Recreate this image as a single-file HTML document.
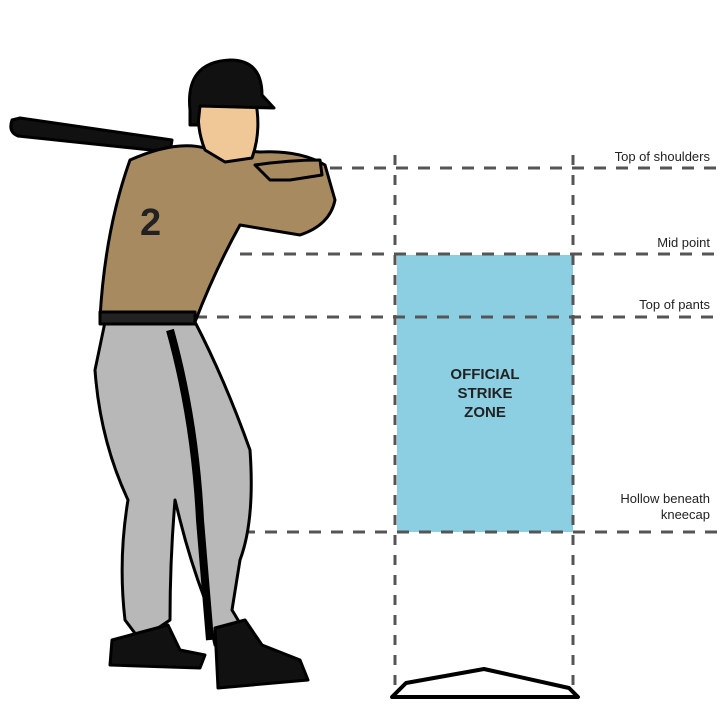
<!DOCTYPE html>
<html><head><meta charset="utf-8"><style>
html,body{margin:0;padding:0;background:#fff;}
body{width:720px;height:714px;position:relative;overflow:hidden;font-family:"Liberation Sans",Arial,sans-serif;}
.l{position:absolute;font-size:13px;color:#222;text-align:right;right:10px;line-height:16px;}
</style></head><body>
<svg width="720" height="714" style="position:absolute;left:0;top:0">
<rect x="397" y="255" width="176" height="277" fill="#8ccfe2"/>
<g stroke="#555" stroke-width="3" stroke-dasharray="12 10" fill="none">
<line x1="330" y1="168" x2="720" y2="168"/>
<line x1="240" y1="254" x2="720" y2="254"/>
<line x1="195" y1="317" x2="720" y2="317"/>
<line x1="243" y1="532" x2="720" y2="532"/>
</g>
<g stroke="#555" stroke-width="3" stroke-dasharray="10 10" fill="none">
<line x1="395" y1="155" x2="395" y2="690"/>
<line x1="573" y1="155" x2="573" y2="690"/>
</g>
<polygon points="392,697 406,683 484,669 569,688 578,697" fill="#fff" stroke="#000" stroke-width="4" stroke-linejoin="round"/>
<!-- batter -->
<g stroke="#000" stroke-width="3" stroke-linejoin="round">
<!-- bat -->
<path d="M12,120 Q8,132 18,136 L170,152 L172,140 L20,118 Z" fill="#111"/>
<!-- pants -->
<path d="M105,322 L195,322 Q225,380 250,450 Q255,520 240,560 L232,610 L250,640 L215,645 L205,600 Q190,560 180,520 L175,500 Q170,560 170,620 L140,640 L125,620 Q118,560 128,500 Q100,440 95,370 Z" fill="#b8b8b8"/>
<path d="M170,330 Q195,420 200,520 L210,640" stroke-width="8" fill="none"/>
<!-- shoes -->
<path d="M112,640 L168,625 L180,650 L205,655 L200,668 L110,665 Z" fill="#111"/>
<path d="M215,628 L245,620 L262,645 L300,660 L308,680 L218,688 Z" fill="#111"/>
<!-- torso -->
<path d="M130,160 Q175,140 205,148 L260,152 Q300,150 325,165 L335,200 Q330,225 300,235 L240,225 Q215,270 195,322 L100,318 Q105,230 130,160 Z" fill="#a88a60"/>
<path d="M255,165 Q290,160 320,160 L322,175 L290,180 L270,180 Z" fill="#a88a60"/>
<rect x="100" y="312" width="95" height="12" fill="#222"/>
<!-- face -->
<path d="M200,100 L255,98 Q262,130 252,158 L225,162 L205,150 Q195,125 200,100 Z" fill="#f0c898"/>
<!-- helmet -->
<path d="M190,110 Q185,62 230,60 Q262,60 262,95 L274,108 L200,106 L198,125 L190,125 Z" fill="#111"/>
</g>
<text x="140" y="235" font-family="Liberation Sans" font-weight="bold" font-size="38" fill="#222">2</text>
</svg>
<div style="position:absolute;left:397px;top:365px;width:176px;text-align:center;font-weight:bold;font-size:15px;line-height:19px;color:#222">OFFICIAL<br>STRIKE<br>ZONE</div>
<div class="l" style="top:149px">Top of shoulders</div>
<div class="l" style="top:235px">Mid point</div>
<div class="l" style="top:297px">Top of pants</div>
<div class="l" style="top:491px">Hollow beneath<br>kneecap</div>
</body></html>
